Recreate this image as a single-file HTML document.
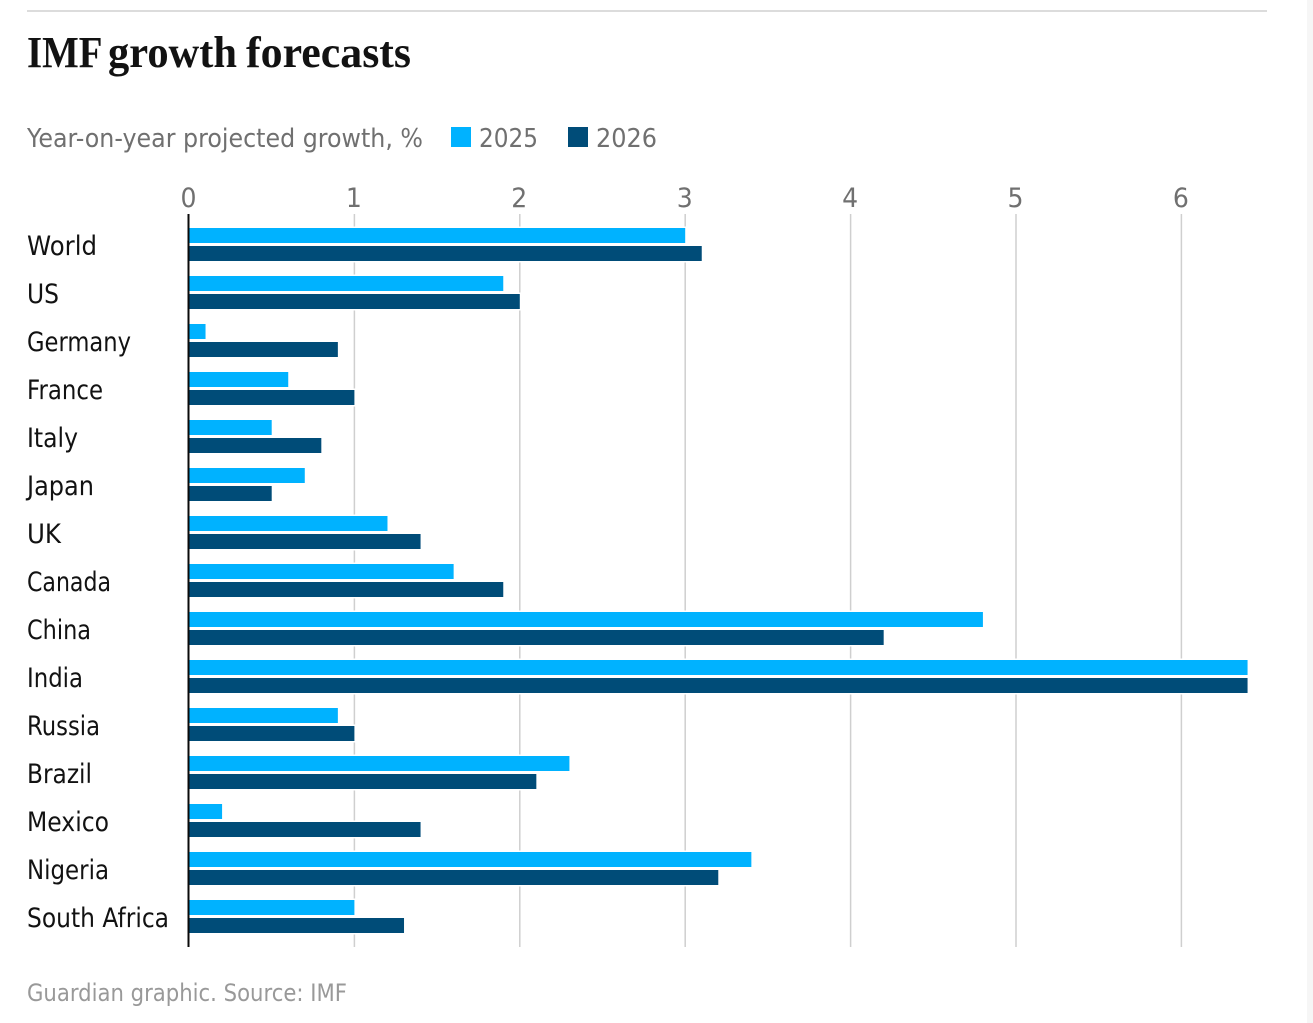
<!DOCTYPE html>
<html lang="en">
<head>
<meta charset="utf-8">
<title>IMF growth forecasts</title>
<style>
  html, body { margin: 0; padding: 0; background: #fff; width: 1313px; height: 1023px; overflow: hidden; }
  #chart { position: absolute; left: 0; top: 0; display: block; }
  text { font-family: "DejaVu Sans", "Liberation Sans", sans-serif; }
  .title { font-family: "Liberation Serif", serif; font-weight: 700; font-size: 44px; fill: #121212; }
  .sub { font-size: 26px; fill: #707070; }
  .tick { font-size: 27px; fill: #707070; text-anchor: middle; }
  .cat { font-size: 27px; fill: #121212; }
  .src { font-size: 24px; fill: #999999; }
</style>
</head>
<body>
<svg id="chart" width="1313" height="1023" viewBox="0 0 1313 1023" xmlns="http://www.w3.org/2000/svg">
  <rect x="1307" y="0" width="6" height="1023" fill="#f6f6f6"></rect>
  <rect x="27" y="10" width="1240" height="2" fill="#dcdcdc"></rect>
  <text class="title" y="67"><tspan x="27" textLength="74" lengthAdjust="spacingAndGlyphs">IMF</tspan> <tspan x="108" textLength="129" lengthAdjust="spacingAndGlyphs">growth</tspan> <tspan x="246" textLength="165" lengthAdjust="spacingAndGlyphs">forecasts</tspan></text>
  <text class="sub" x="27" y="147" textLength="396" lengthAdjust="spacingAndGlyphs">Year-on-year projected growth, %</text>
  <rect x="451" y="127" width="20" height="20" fill="#00b2ff"></rect>
  <text class="sub" x="479" y="147" textLength="59" lengthAdjust="spacingAndGlyphs">2025</text>
  <rect x="568" y="127" width="20" height="20" fill="#004c78"></rect>
  <text class="sub" x="596" y="147" textLength="61" lengthAdjust="spacingAndGlyphs">2026</text>
  <g id="grid"></g>
  <g id="ticks"></g>
  <g id="bars"></g>
  <g id="cats"></g>
  <rect x="187.5" y="214" width="2" height="733" fill="#0a0a0a"></rect>
  <text class="src" x="27" y="1001" textLength="320" lengthAdjust="spacingAndGlyphs">Guardian graphic. Source: IMF</text>
</svg>
<script>
const categories = ["World", "US", "Germany", "France", "Italy", "Japan", "UK", "Canada", "China", "India", "Russia", "Brazil", "Mexico", "Nigeria", "South Africa"];
const values2025 = [3.0, 1.9, 0.1, 0.6, 0.5, 0.7, 1.2, 1.6, 4.8, 6.4, 0.9, 2.3, 0.2, 3.4, 1.0];
const values2026 = [3.1, 2.0, 0.9, 1.0, 0.8, 0.5, 1.4, 1.9, 4.2, 6.4, 1.0, 2.1, 1.4, 3.2, 1.3];
const tickLabels = [0, 1, 2, 3, 4, 5, 6];

const NS = "http://www.w3.org/2000/svg";
const color2025 = "#00b2ff";
const color2026 = "#004c78";
const labelFit = { "World": 70, "US": 32, "Germany": 104, "France": 76, "Italy": 51, "Japan": 67, "UK": 34, "Canada": 84, "China": 64, "India": 56, "Russia": 73, "Brazil": 65, "Mexico": 82, "Nigeria": 82, "South Africa": 142 };
function xScale(v) { return 189 + v * 165.4; }
function rowTop(i) { return 228 + i * 48; }

const gridGroup = document.getElementById("grid");
const tickGroup = document.getElementById("ticks");
tickLabels.forEach(function (t) {
  if (t !== 0) {
    const line = document.createElementNS(NS, "line");
    line.setAttribute("x1", xScale(t));
    line.setAttribute("x2", xScale(t));
    line.setAttribute("y1", 214);
    line.setAttribute("y2", 947);
    line.setAttribute("stroke", "#cfcfcf");
    line.setAttribute("stroke-width", 1.5);
    
    
    gridGroup.appendChild(line);
  }
  const label = document.createElementNS(NS, "text");
  label.setAttribute("class", "tick");
  label.setAttribute("x", xScale(t) - 0.5);
  label.setAttribute("y", 207);
  label.setAttribute("textLength", 16);
  label.setAttribute("lengthAdjust", "spacingAndGlyphs");
  label.textContent = t;
  
  
  tickGroup.appendChild(label);
});

const barGroup = document.getElementById("bars");
const catGroup = document.getElementById("cats");
function drawBar(value, y, fill, isFirst) {
  const r = document.createElementNS(NS, "rect");
  r.setAttribute("x", xScale(0));
  r.setAttribute("y", y);
  r.setAttribute("width", xScale(value) - xScale(0));
  r.setAttribute("height", 15);
  r.setAttribute("fill", fill);
  r.setAttribute("stroke", "#ffffff");
  r.setAttribute("stroke-width", 3);
  r.setAttribute("paint-order", "stroke");
  if (isFirst) {
    
  } else {
    
  }
  
  barGroup.appendChild(r);
}
categories.forEach(function (name, i) {
  drawBar(values2025[i], rowTop(i), color2025, true);
  drawBar(values2026[i], rowTop(i) + 18, color2026, false);
  const label = document.createElementNS(NS, "text");
  label.setAttribute("class", "cat");
  label.setAttribute("x", 27);
  label.setAttribute("y", rowTop(i) + 27);
  label.setAttribute("textLength", labelFit[name]);
  label.setAttribute("lengthAdjust", "spacingAndGlyphs");
  label.textContent = name;
  
  
  catGroup.appendChild(label);
});
</script>
</body>
</html>
